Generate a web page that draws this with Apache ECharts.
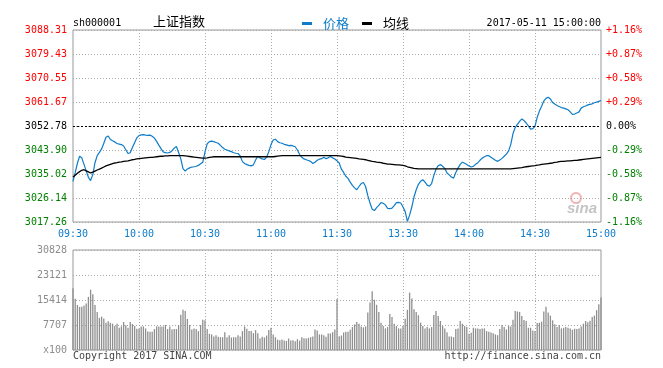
<!DOCTYPE html>
<html><head><meta charset="utf-8">
<script src="https://cdn.jsdelivr.net/npm/echarts@6/dist/echarts.min.js"></script>
<style>html,body{margin:0;padding:0;background:#fff}#c{width:663px;height:368px}</style>
</head><body><div id="c"></div>
<script>
// ---- data ----
const priceValues = [
3032.3,3035.5,3039.0,3041.6,3041.0,3038.6,3036.2,3033.8,3032.6,3034.8,
3039.2,3041.8,3043.0,3044.3,3046.4,3048.6,3049.1,3047.8,3047.3,3046.9,
3046.3,3046.1,3045.9,3045.4,3044.0,3042.6,3042.9,3044.8,3046.6,3048.4,
3049.2,3049.5,3049.6,3049.4,3049.3,3049.4,3049.0,3048.3,3047.1,3045.7,
3044.4,3043.2,3042.9,3042.8,3043.0,3043.6,3044.6,3045.2,3043.0,3040.6,
3037.0,3036.1,3036.9,3037.3,3037.6,3037.7,3037.9,3038.2,3038.8,3039.4,
3043.2,3046.2,3047.0,3047.2,3047.0,3046.7,3046.4,3045.6,3044.8,3044.2,
3043.9,3043.6,3043.3,3042.9,3042.7,3042.6,3041.7,3039.6,3038.9,3038.5,
3038.2,3038.0,3038.4,3040.2,3041.6,3041.0,3040.6,3040.4,3041.2,3043.3,
3045.9,3047.6,3047.9,3047.0,3046.6,3046.4,3046.0,3045.8,3045.5,3045.6,
3045.4,3045.1,3043.9,3042.2,3041.2,3040.6,3040.3,3040.0,3039.7,3038.9,
3039.4,3040.1,3040.5,3040.7,3041.2,3040.7,3041.0,3041.5,3041.0,3040.6,
3039.9,
3039.1,3036.8,3035.6,3034.2,3033.4,3032.0,3030.8,3029.9,3029.2,3030.4,
3031.5,3031.9,3030.4,3027.0,3024.3,3022.0,3021.5,3022.6,3023.4,3024.4,
3024.2,3023.6,3022.3,3022.2,3022.4,3023.3,3024.4,3024.5,3024.3,3022.8,
3021.1,3017.5,3019.8,3022.8,3026.5,3029.2,3031.2,3032.3,3032.9,3032.0,
3030.9,3030.5,3031.5,3034.4,3036.8,3038.1,3038.5,3037.9,3037.1,3035.4,
3034.7,3033.9,3033.5,3035.6,3037.2,3038.6,3039.4,3039.0,3038.5,3038.0,
3037.6,3037.9,3038.6,3039.2,3040.1,3040.9,3041.4,3041.8,3041.8,3041.2,
3040.7,3040.1,3039.7,3040.2,3040.8,3041.6,3042.4,3043.6,3046.0,3050.0,
3052.2,3053.4,3054.5,3055.4,3054.8,3053.9,3052.8,3051.6,3051.8,3052.7,
3056.0,3058.3,3060.1,3062.0,3063.0,3063.4,3062.8,3061.5,3060.9,3060.4,
3060.0,3059.6,3059.4,3059.1,3058.8,3058.0,3057.1,3057.2,3057.6,3058.0,
3059.4,3059.9,3060.2,3060.6,3060.8,3061.0,3061.4,3061.6,3061.9,3062.2];

const avgValues = [
3033.9,3034.6,3035.3,3035.9,3036.4,3036.6,3036.2,3035.8,3035.4,3035.7,
3036.1,3036.5,3036.8,3037.2,3037.6,3038.0,3038.3,3038.6,3038.9,3039.1,
3039.2,3039.4,3039.5,3039.7,3039.8,3039.9,3040.1,3040.3,3040.4,3040.6,
3040.7,3040.8,3040.9,3041.0,3041.1,3041.2,3041.2,3041.3,3041.4,3041.5,
3041.6,3041.6,3041.7,3041.7,3041.8,3041.8,3041.8,3041.8,3041.8,3041.8,
3041.8,3041.7,3041.6,3041.5,3041.4,3041.3,3041.2,3041.1,3041.0,3040.9,
3040.9,3041.0,3041.2,3041.3,3041.4,3041.4,3041.4,3041.4,3041.4,3041.4,
3041.4,3041.4,3041.4,3041.4,3041.4,3041.4,3041.4,3041.4,3041.4,3041.4,
3041.4,3041.4,3041.4,3041.4,3041.4,3041.4,3041.4,3041.4,3041.4,3041.4,
3041.4,3041.4,3041.5,3041.6,3041.7,3041.8,3041.8,3041.8,3041.8,3041.8,
3041.8,3041.8,3041.8,3041.8,3041.8,3041.8,3041.8,3041.8,3041.8,3041.8,
3041.8,3041.8,3041.8,3041.8,3041.8,3041.8,3041.8,3041.8,3041.8,3041.8,
3041.8,
3041.7,3041.6,3041.5,3041.3,3041.2,3041.1,3041.0,3040.9,3040.8,3040.6,
3040.5,3040.4,3040.3,3040.1,3039.9,3039.7,3039.6,3039.4,3039.3,3039.2,
3039.0,3038.9,3038.7,3038.7,3038.6,3038.5,3038.4,3038.4,3038.3,3038.2,
3038.0,3037.7,3037.5,3037.3,3037.1,3037.0,3036.9,3036.9,3036.9,3036.9,
3036.9,3036.9,3036.9,3036.9,3036.9,3036.9,3036.9,3036.9,3036.9,3036.9,
3036.9,3036.9,3036.9,3036.9,3036.9,3036.9,3036.9,3036.9,3036.9,3036.9,
3036.9,3036.9,3036.9,3036.9,3036.9,3036.9,3036.9,3036.9,3036.9,3036.9,
3036.9,3036.9,3036.9,3036.9,3036.9,3036.9,3036.9,3036.9,3036.9,3037.0,
3037.1,3037.2,3037.3,3037.4,3037.6,3037.7,3037.8,3037.9,3038.0,3038.1,
3038.3,3038.4,3038.6,3038.7,3038.8,3038.9,3039.0,3039.1,3039.3,3039.4,
3039.6,3039.7,3039.7,3039.8,3039.9,3039.9,3040.0,3040.1,3040.1,3040.2,
3040.3,3040.4,3040.5,3040.6,3040.7,3040.8,3040.9,3041.0,3041.1,3041.2];

const volumeValues = [
19030,15800,13900,13300,13300,13700,14350,16400,18600,17160,13900,11750,9900,10300,9700,8400,8900,8400,8100,7400,8100,6860,7280,8630,7600,6860,8630,8000,7400,6550,
6550,7280,7280,6650,5700,5600,5600,6450,7280,7280,7280,7280,7700,6450,7280,6340,6450,6450,7700,10900,12400,12060,9570,7700,6340,6650,6450,5820,7700,9360,
9150,6450,5000,4800,4160,4580,4060,3950,3950,5500,3950,4580,3850,3950,3950,4580,4160,5820,7280,6550,5820,5820,5200,6140,5200,3540,4060,3850,4470,6140,
6860,4800,3950,3220,3020,3220,2900,2800,3540,2900,3020,2700,3330,2900,3950,3640,3540,3740,3950,4160,6340,6030,4800,4800,4580,4060,5100,5100,5500,6340,15700,
4260,4470,5400,5600,5600,6240,7070,7900,8630,8100,7280,6970,7280,11540,14660,18100,15500,13940,11750,8420,7380,6650,7070,11130,10200,8100,7380,6650,6650,7490,
9670,12380,17680,15900,12580,11750,10710,8420,7380,6650,7070,6650,7070,10820,12060,10500,8940,7380,6650,5500,4160,4160,3950,6450,6650,8940,8100,7380,7070,5000,
5300,6860,6650,6650,6450,6650,6650,5820,5600,5400,5200,4800,4580,6450,7700,7070,6340,7380,7280,9360,12060,11860,11750,10500,9260,8940,6860,6860,6030,5820,
8320,8420,8740,11860,13310,11540,10600,9150,7900,7070,7700,6650,6860,7070,6860,6650,6240,6550,6450,6650,7280,8100,8940,8530,9050,10200,10600,12270,14140,16220];

const priceTickLabels = ['3017.26','3026.14','3035.02','3043.90','3052.78','3061.67','3070.55','3079.43','3088.31'];
const pctTickLabels = ['-1.16%','-0.87%','-0.58%','-0.29%','0.00%','+0.29%','+0.58%','+0.87%','+1.16%'];
const volTickLabels = ['x100','7707','15414','23121','30828'];
const prevClose = 3052.78;
const priceMin = 3017.26, priceMax = 3088.31;
const volMax = 30828;

// minute categories 09:30-11:30, 13:01-15:00
function pad(n){return (n<10?'0':'')+n;}
const times = [];
for (let m = 570; m <= 690; m++) times.push(pad(Math.floor(m/60))+':'+pad(m%60));
for (let m = 781; m <= 900; m++) times.push(pad(Math.floor(m/60))+':'+pad(m%60));

const BLUE = '#0e7cc8', RED = '#ff0000', GREEN = '#008000';
const MONO = 'DejaVu Sans Mono';
const pInt = (priceMax - priceMin) / 8;
function pIdx(v){ return Math.round((v - priceMin) / pInt); }
function pColor(v){ const i = pIdx(v); return i > 4 ? RED : (i < 4 ? GREEN : '#000'); }

const chart = echarts.init(document.getElementById('c'), null, {renderer:'canvas'});
const dotted = {color:'#aaa', type:[1,2], width:1};
chart.setOption({
  animation: false,
  backgroundColor: '#fff',
  grid: [
    {left:73, top:30, width:528, height:192, show:true, borderColor:'#999', borderWidth:1, backgroundColor:'transparent'},
    {left:73, top:250, width:528, height:100, show:true, borderColor:'#999', borderWidth:1, backgroundColor:'transparent'}
  ],
  legend: {
    left: 297, top: 12, icon: 'rect', itemWidth: 10, itemHeight: 3, itemGap: 13,
    selectedMode: false,
    textStyle: {fontSize: 13, fontFamily: 'Noto Sans CJK SC', padding: [0,0,0,6]},
    data: [
      {name:'价格', textStyle:{color: BLUE}},
      {name:'均线', textStyle:{color: '#000'}}
    ]
  },
  xAxis: [
    {type:'category', gridIndex:0, data:times, boundaryGap:false,
     axisLine:{show:false}, axisTick:{show:false},
     axisLabel:{interval:(i)=> i % 30 === 0, margin:7, color:BLUE, fontFamily:MONO, fontSize:10},
     splitLine:{show:true, interval:(i)=> i % 30 === 0 && i > 0 && i < 240, lineStyle:dotted}},
    {type:'category', gridIndex:1, data:times, boundaryGap:false,
     axisLine:{show:false}, axisTick:{show:false}, axisLabel:{show:false},
     splitLine:{show:true, interval:(i)=> i % 30 === 0 && i > 0 && i < 240, lineStyle:dotted}}
  ],
  yAxis: [
    {type:'value', gridIndex:0, position:'left', min:priceMin, max:priceMax, interval:pInt,
     axisLine:{show:false}, axisTick:{show:false},
     splitLine:{show:true, lineStyle:dotted},
     axisLabel:{margin:6, fontFamily:MONO, fontSize:10, formatter:(v)=>priceTickLabels[pIdx(v)], color:pColor}},
    {type:'value', gridIndex:0, position:'right', min:priceMin, max:priceMax, interval:pInt,
     axisLine:{show:false}, axisTick:{show:false}, splitLine:{show:false},
     axisLabel:{margin:5, fontFamily:MONO, fontSize:10, formatter:(v)=>pctTickLabels[pIdx(v)], color:pColor}},
    {type:'value', gridIndex:1, position:'left', min:0, max:volMax, interval:volMax/4,
     axisLine:{show:false}, axisTick:{show:false},
     splitLine:{show:true, lineStyle:dotted},
     axisLabel:{margin:6, fontFamily:MONO, fontSize:10, color:'#8c8c8c',
       formatter:(v)=>volTickLabels[Math.round(v/(volMax/4))]}}
  ],
  series: [
    {name:'价格', type:'line', xAxisIndex:0, yAxisIndex:0, data:priceValues, showSymbol:false,
     color: BLUE, lineStyle:{color:BLUE, width:1.2}, silent:true,
     markLine:{silent:true, symbol:'none', label:{show:false},
       lineStyle:{color:'#000', type:[2,2], width:1}, data:[{yAxis:prevClose}]}},
    {name:'均线', type:'line', xAxisIndex:0, yAxisIndex:0, data:avgValues, showSymbol:false,
     color:'#000', lineStyle:{color:'#000', width:1.3}, silent:true},
    {name:'成交量', type:'bar', xAxisIndex:1, yAxisIndex:2, data:volumeValues, barWidth:1.3,
     itemStyle:{color:'#8f8f8f'}, silent:true}
  ],
  graphic: [
    {type:'text', left:73, top:18, style:{text:'sh000001', font:'10px "DejaVu Sans Mono"', fill:'#000'}},
    {type:'text', left:153, top:15, style:{text:'上证指数', font:'13px "Noto Sans CJK SC"', fill:'#000'}},
    {type:'text', right:62, top:18, style:{text:'2017-05-11 15:00:00', font:'10px "DejaVu Sans Mono"', fill:'#000'}},
    {type:'text', left:73, top:351, style:{text:'Copyright 2017 SINA.COM', font:'10px "DejaVu Sans Mono"', fill:'#444'}},
    {type:'text', right:62, top:351, style:{text:'http://finance.sina.com.cn', font:'10px "DejaVu Sans Mono"', fill:'#444'}},
    {type:'circle', shape:{cx:576, cy:198, r:5}, style:{fill:'none', stroke:'#f2b0b0', lineWidth:2}, silent:true},
    {type:'text', left:567, top:201, style:{text:'sina', font:'italic bold 15px "Liberation Sans"', fill:'#c4c4c4'}, silent:true}
  ]
});
</script>
</body></html>
